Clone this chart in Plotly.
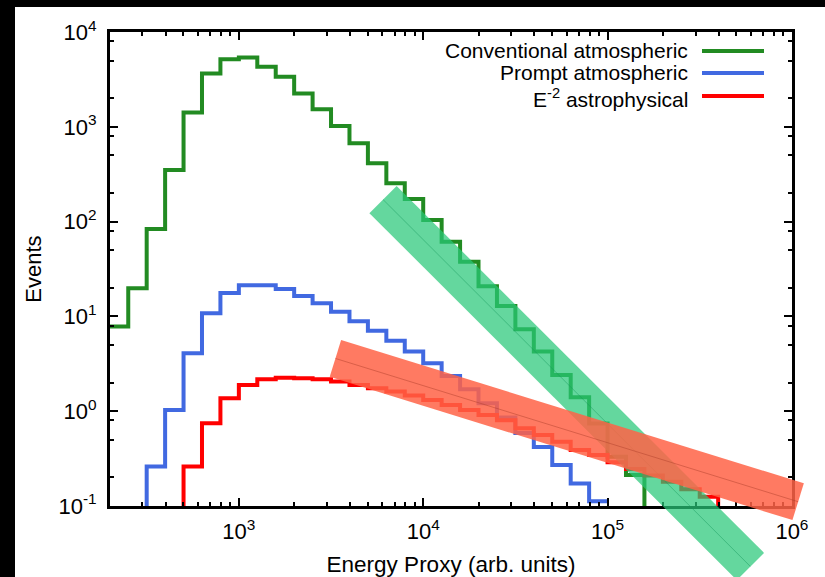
import numpy as np
import plotly.graph_objects as go

# ---------------- data ----------------
# log10 of bin edges (energy proxy), one more edge than values
conv_log_edges = [2.3, 2.4, 2.5, 2.6, 2.7, 2.8, 2.9, 3.0, 3.1, 3.2, 3.3, 3.4, 3.5, 3.6, 3.7,
                  3.8, 3.9, 4.0, 4.1, 4.2, 4.3, 4.4, 4.5, 4.6, 4.7, 4.8, 4.9, 5.0, 5.1, 5.2, 5.3]
conv_events = [7.8, 19.8, 83.5, 350, 1420, 3660, 5150, 5400, 4300, 3380, 2250, 1530, 1020, 670,
               412, 254, 173, 104, 61.4, 37.8, 20.8, 12.9, 7.3, 4.25, 2.41, 1.40, 0.74, 0.33,
               0.212, 0.001]

prompt_log_edges = [2.4, 2.5, 2.6, 2.7, 2.8, 2.9, 3.0, 3.1, 3.2, 3.3, 3.4, 3.5, 3.6, 3.7, 3.8,
                    3.9, 4.0, 4.1, 4.2, 4.3, 4.4, 4.5, 4.6, 4.7, 4.8, 4.9, 5.0]
prompt_events = [0.001, 0.26, 1.03, 4.08, 10.8, 17.6, 21.3, 21.3, 19.5, 16.4, 13.8, 11.2, 8.9,
                 7.06, 5.54, 4.25, 3.2, 2.35, 1.70, 1.21, 0.86, 0.59, 0.42, 0.27, 0.173, 0.112]

astro_log_edges = [2.6, 2.7, 2.8, 2.9, 3.0, 3.1, 3.2, 3.3, 3.4, 3.5, 3.6, 3.7, 3.8, 3.9, 4.0,
                   4.1, 4.2, 4.3, 4.4, 4.5, 4.6, 4.7, 4.8, 4.9, 5.0, 5.1, 5.2, 5.3, 5.4, 5.5,
                   5.6, 5.7]
astro_events = [0.001, 0.26, 0.745, 1.37, 1.89, 2.17, 2.25, 2.23, 2.17, 2.05, 1.89, 1.74, 1.61,
                1.46, 1.31, 1.16, 1.03, 0.91, 0.80, 0.66, 0.56, 0.477, 0.39, 0.345, 0.29, 0.245,
                0.21, 0.18, 0.15, 0.125, 0.001]

# fit bands: centre line end points (energy, events)
conv_band_E = [6.05e3, 5.95e5]
conv_band_N = [171.0, 0.0230]
astro_band_E = [3.34e3, 1.08e6]
astro_band_N = [3.6, 0.111]

series_names = ["Conventional atmospheric", "Prompt atmospheric", "E<sup>-2</sup> astrophysical"]
series_colors = ["#228B22", "#4169E1", "#FF0000"]

x_tickvals = [1e3, 1e4, 1e5, 1e6]
x_ticktext = ["10<sup>3</sup>", "10<sup>4</sup>", "10<sup>5</sup>", "10<sup>6</sup>"]
y_tickvals = [0.1, 1, 10, 100, 1000, 10000]
y_ticktext = ["10<sup>-1</sup>", "10<sup>0</sup>", "10<sup>1</sup>", "10<sup>2</sup>",
              "10<sup>3</sup>", "10<sup>4</sup>"]
x_minor = [m * 10 ** d for d in range(2, 6) for m in range(2, 10)]
y_minor = [m * 10 ** d for d in range(-1, 4) for m in (2, 5, 8)]

# ---------------- geometry ----------------
W, H = 825, 577
ML, MR, MT, MB = 110, 33, 32, 71
PW, PH = W - ML - MR, H - MT - MB
XR = [np.log10(200), 6.0]
YR = [-1.0, 4.0]
FONT = "Liberation Sans, Arial, Helvetica, sans-serif"


def data_to_px(E, N):
    px = ML + (np.log10(E) - XR[0]) / (XR[1] - XR[0]) * PW
    py = MT + (1 - (np.log10(N) - YR[0]) / (YR[1] - YR[0])) * PH
    return px, py


def px_to_paper(px, py):
    return (px - ML) / PW, 1 - (py - MT) / PH


def band_shapes(Es, Ns, width, fill, linecol):
    x0, y0 = data_to_px(Es[0], Ns[0])
    x1, y1 = data_to_px(Es[1], Ns[1])
    d = np.array([x1 - x0, y1 - y0])
    d = d / np.linalg.norm(d)
    n = np.array([-d[1], d[0]]) * width / 2
    pts = [(x0 + n[0], y0 + n[1]), (x1 + n[0], y1 + n[1]),
           (x1 - n[0], y1 - n[1]), (x0 - n[0], y0 - n[1])]
    pp = [px_to_paper(*p) for p in pts]
    path = "M " + " L ".join(f"{a:.5f},{b:.5f}" for a, b in pp) + " Z"
    a0, b0 = px_to_paper(x0, y0)
    a1, b1 = px_to_paper(x1, y1)
    return [
        dict(type="path", xref="paper", yref="paper", path=path, fillcolor=fill,
             line=dict(width=0), layer="above"),
        dict(type="line", xref="paper", yref="paper", x0=a0, y0=b0, x1=a1, y1=b1,
             line=dict(color=linecol, width=1), layer="above"),
    ]


fig = go.Figure()
for edges, vals, name, col in [(conv_log_edges, conv_events, series_names[0], series_colors[0]),
                               (prompt_log_edges, prompt_events, series_names[1], series_colors[1]),
                               (astro_log_edges, astro_events, series_names[2], series_colors[2])]:
    xs = [10 ** e for e in edges]
    ys = list(vals) + [vals[-1]]
    fig.add_trace(go.Scatter(x=xs, y=ys, mode="lines", line=dict(color=col, width=4, shape="hv"),
                             name=name, showlegend=False))

shapes = []
# black frame strips of the picture
fx0, fy0 = px_to_paper(0, 0)
fx1, fy1 = px_to_paper(W, 7)
shapes.append(dict(type="rect", xref="paper", yref="paper", x0=fx0, y0=fy0, x1=fx1, y1=fy1,
                   fillcolor="black", line=dict(width=0), layer="below"))
fx1, fy1 = px_to_paper(15, H)
shapes.append(dict(type="rect", xref="paper", yref="paper", x0=fx0, y0=fy0, x1=fx1, y1=fy1,
                   fillcolor="black", line=dict(width=0), layer="below"))

shapes += band_shapes(conv_band_E, conv_band_N, 38.5, "rgba(40,200,120,0.72)", "rgba(20,150,90,0.45)")
shapes += band_shapes(astro_band_E, astro_band_N, 38.5, "rgba(255,99,71,0.85)", "rgba(170,60,40,0.45)")

# custom legend (text left, line sample right)
annotations = []
leg_y = [51, 73, 96]
text_dy = [0, 0, 1.5]
for name, col, ly, dy in zip(series_names, series_colors, leg_y, text_dy):
    tx, ty = px_to_paper(689, ly + dy)
    annotations.append(dict(x=tx, y=ty, xref="paper", yref="paper", text=name, showarrow=False,
                            xanchor="right", yanchor="middle", borderpad=0,
                            font=dict(family=FONT, size=21, color="black")))
    lx0, ly0 = px_to_paper(702, ly)
    lx1, _ = px_to_paper(764, ly)
    shapes.append(dict(type="line", xref="paper", yref="paper", x0=lx0, x1=lx1, y0=ly0, y1=ly0,
                       line=dict(color=col, width=4), layer="above"))

axis_common = dict(type="log", showgrid=False, zeroline=False, showline=True, linecolor="black",
                   linewidth=3, mirror="allticks", ticks="inside", ticklen=8, tickwidth=2,
                   tickcolor="black", tickmode="array",
                   tickfont=dict(family=FONT, size=22, color="black"))

fig.update_layout(
    width=W, height=H,
    margin=dict(l=ML, r=MR, t=MT, b=MB, autoexpand=False),
    paper_bgcolor="white", plot_bgcolor="white",
    font=dict(family=FONT, size=22, color="black"),
    shapes=shapes, annotations=annotations,
    xaxis=dict(axis_common, range=[XR[0], XR[1] + 0.0005], tickvals=x_tickvals, ticktext=x_ticktext,
               minor=dict(tickmode="array", tickvals=x_minor, ticks="inside", ticklen=4,
                          tickwidth=2, tickcolor="black"),
               title=dict(text="Energy Proxy (arb. units)", standoff=13,
                          font=dict(family=FONT, size=22.5, color="black")),
               ticklabelstandoff=4),
    yaxis=dict(axis_common, range=[YR[0] - 0.0005, YR[1] + 0.0005], tickvals=y_tickvals, ticktext=y_ticktext,
               minor=dict(tickmode="array", tickvals=y_minor, ticks="inside", ticklen=4,
                          tickwidth=2, tickcolor="black"),
               title=dict(text="Events", standoff=11,
                          font=dict(family=FONT, size=22, color="black")),
               ticklabelstandoff=6),
)

fig.write_html("out.html", config={"displayModeBar": False},
               post_script="document.body.style.margin='0';document.body.style.overflow='hidden';")
